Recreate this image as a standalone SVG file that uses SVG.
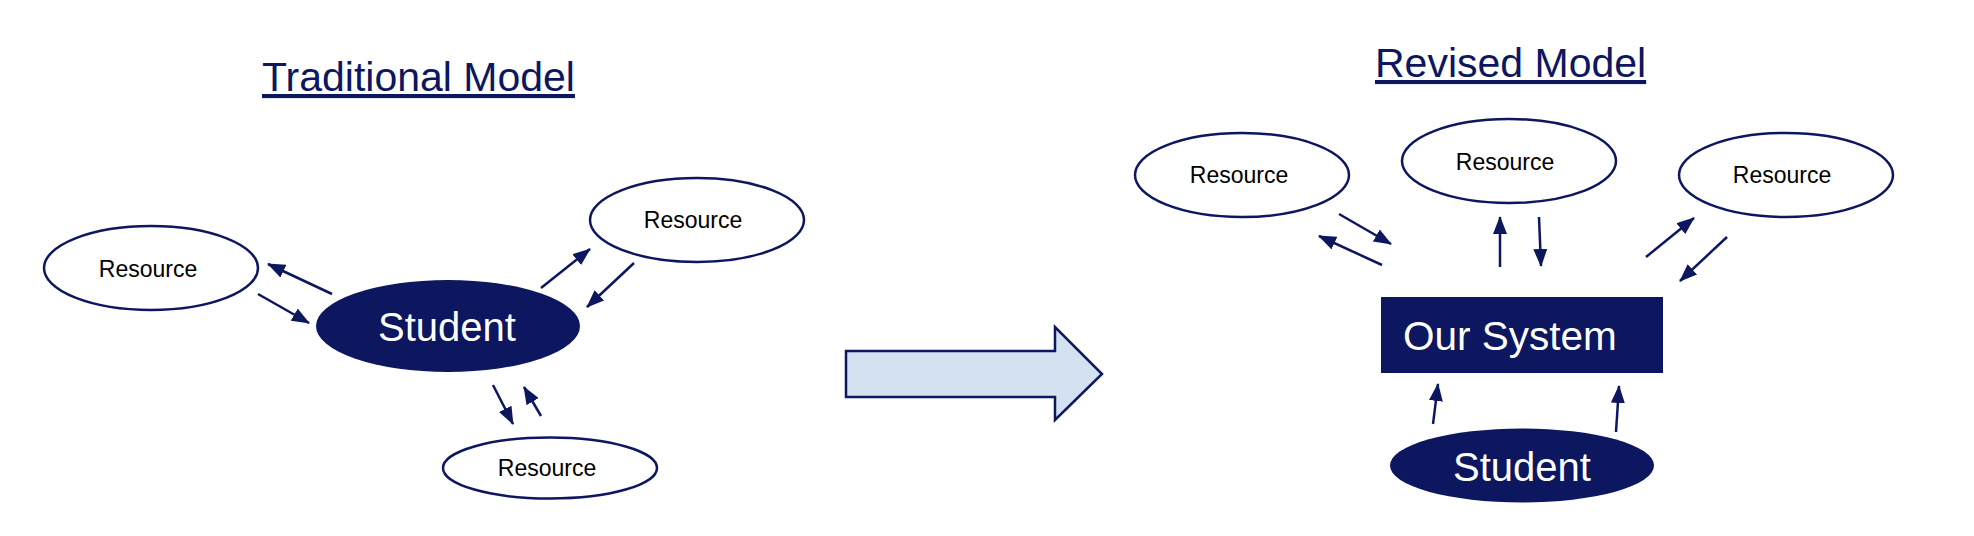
<svg xmlns="http://www.w3.org/2000/svg" width="1974" height="536" viewBox="0 0 1974 536">
<style>
.title{font-family:"Liberation Sans",Arial,sans-serif;font-size:41px;fill:#0c175f;text-decoration:underline}
.res{fill:#ffffff;stroke:#0c175f;stroke-width:2.5}
.rt{font-family:"Liberation Sans",Arial,sans-serif;font-size:23px;fill:#000000;text-anchor:middle}
.dark{fill:#0c175f}
.st{font-family:"Liberation Sans",Arial,sans-serif;font-size:40px;fill:#ffffff;text-anchor:middle}
.con line{stroke:#0c175f;stroke-width:2.5;marker-end:url(#ah)}
</style>
<defs>
<marker id="ah" markerUnits="userSpaceOnUse" markerWidth="18" markerHeight="14" refX="17" refY="7" orient="auto">
<path d="M0,0 L18,7 L0,14 z" fill="#0c175f"/>
</marker>
</defs>
<rect width="1974" height="536" fill="#ffffff"/>
<text class="title" x="262" y="91">Traditional Model</text>
<text class="title" x="1375" y="77">Revised Model</text>

<g id="trad-res-left"><ellipse class="res" cx="151" cy="268" rx="107" ry="42"/><text class="rt" x="148" y="277">Resource</text></g>
<g id="trad-res-topright"><ellipse class="res" cx="697" cy="220" rx="107" ry="42"/><text class="rt" x="693" y="228">Resource</text></g>
<g id="trad-res-bottom"><ellipse class="res" cx="550" cy="468" rx="107" ry="30.5"/><text class="rt" x="547" y="476">Resource</text></g>
<g id="trad-student"><ellipse class="dark" cx="448" cy="326" rx="132" ry="46"/><text class="st" x="447" y="341">Student</text></g>

<g id="big-arrow"><path d="M846,351 L1055,351 L1055,327 L1102,374 L1055,420 L1055,397 L846,397 z" fill="#d3e1f0" stroke="#0c175f" stroke-width="2.5" stroke-linejoin="miter"/></g>

<g id="rev-res-left"><ellipse class="res" cx="1242" cy="175" rx="107" ry="42"/><text class="rt" x="1239" y="183">Resource</text></g>
<g id="rev-res-mid"><ellipse class="res" cx="1509" cy="161" rx="107" ry="42"/><text class="rt" x="1505" y="170">Resource</text></g>
<g id="rev-res-right"><ellipse class="res" cx="1786" cy="175" rx="107" ry="42"/><text class="rt" x="1782" y="183">Resource</text></g>
<g id="rev-system"><rect class="dark" x="1381" y="297" width="282" height="76"/><text x="1403" y="350" font-family="'Liberation Sans',Arial,sans-serif" font-size="40.5" fill="#ffffff">Our System</text></g>
<g id="rev-student"><ellipse class="dark" cx="1522" cy="465.5" rx="132" ry="37"/><text class="st" x="1522" y="481">Student</text></g>

<g id="connectors" class="con">
<line x1="332" y1="294" x2="268" y2="264"/>
<line x1="258" y1="294" x2="309" y2="323"/>
<line x1="541" y1="288" x2="590" y2="249"/>
<line x1="634" y1="263" x2="587" y2="307"/>
<line x1="493" y1="385" x2="513" y2="424"/>
<line x1="541" y1="416" x2="524" y2="387"/>
<line x1="1339" y1="214" x2="1391" y2="244"/>
<line x1="1382" y1="265" x2="1319" y2="236"/>
<line x1="1500" y1="267" x2="1500" y2="217"/>
<line x1="1539" y1="217" x2="1541" y2="266"/>
<line x1="1646" y1="257" x2="1694" y2="218"/>
<line x1="1727" y1="237" x2="1680" y2="281"/>
<line x1="1433" y1="424" x2="1438" y2="384"/>
<line x1="1616" y1="432" x2="1619" y2="386"/>
</g>
</svg>
